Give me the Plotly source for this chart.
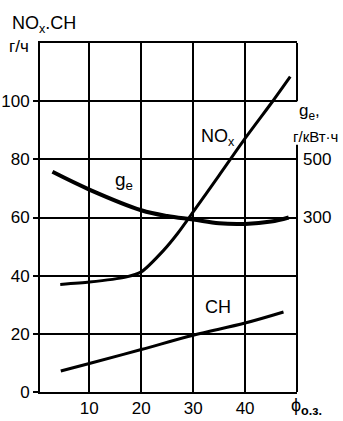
import plotly.graph_objects as go

# Data
phi_nox = [4.4, 10, 17, 20, 24.3, 27, 30, 35, 40, 45.5, 48.7]
nox = [37.0, 37.8, 39.5, 41.3, 48.7, 54.5, 61.9, 74.5, 87.2, 100.4, 108.4]

phi_ch = [4.5, 10, 20, 30, 40, 47.4]
ch = [7.2, 9.8, 14.6, 19.5, 23.7, 27.5]

phi_ge = [2.9, 10, 20, 25, 30, 35, 40, 45, 48.4]
ge = [457, 396, 325, 305, 293, 280, 278, 286, 300]

x_ticks = [10, 20, 30, 40]
y_ticks = [0, 20, 40, 60, 80, 100]
y2_ticks = [300, 500]

FONT = "Liberation Sans, Arial, sans-serif"
BLACK = "#000000"

fig = go.Figure()
fig.add_trace(go.Scatter(x=phi_nox, y=nox, mode="lines", line=dict(color=BLACK, width=3, shape="spline", smoothing=0.6), showlegend=False))
fig.add_trace(go.Scatter(x=phi_ch, y=ch, mode="lines", line=dict(color=BLACK, width=3, shape="spline"), showlegend=False))
fig.add_trace(go.Scatter(x=phi_ge, y=ge, mode="lines", yaxis="y2", line=dict(color=BLACK, width=4, shape="spline"), showlegend=False))

fig.update_layout(
    width=343, height=421,
    margin=dict(l=40, r=46, t=43, b=29),
    paper_bgcolor="white", plot_bgcolor="white",
    font=dict(family=FONT, size=17, color=BLACK),
    xaxis=dict(range=[0.5, 50], tickvals=x_ticks, showgrid=True, gridcolor=BLACK, gridwidth=2,
               showline=True, linecolor=BLACK, linewidth=2, mirror=True, ticks="",
               zeroline=False, tickfont=dict(size=17), ticklabelstandoff=0, automargin=False),
    yaxis=dict(range=[0, 120], tickvals=y_ticks, showgrid=True, gridcolor=BLACK, gridwidth=2,
               showline=True, linecolor=BLACK, linewidth=2, ticks="outside", ticklen=5,
               tickwidth=2, tickcolor=BLACK, zeroline=False, tickfont=dict(size=17), automargin=False),
    yaxis2=dict(range=[-300, 900], tickvals=y2_ticks, overlaying="y", side="right",
                showgrid=False, showline=False, ticks="", zeroline=False,
                tickfont=dict(size=17), ticklabelstandoff=5, automargin=False),
)

# right border with a gap for the g_e label
fig.add_shape(type="line", xref="paper", yref="y", x0=1, x1=1, y0=0, y1=85, line=dict(color=BLACK, width=2))
fig.add_shape(type="line", xref="paper", yref="y", x0=1, x1=1, y0=100, y1=120, line=dict(color=BLACK, width=2))

def px_x(px):
    return (px - 40) / 257.0

def px_y(py):
    return (392.0 - py) / 349.0

ann = [
    dict(text="NO<sub>x</sub>.CH", x=px_x(10), y=px_y(24), xanchor="left", yanchor="middle", size=18),
    dict(text="г/ч", x=px_x(7), y=px_y(47), xanchor="left", yanchor="middle", size=17),
    dict(text="g<sub>e</sub>,", x=px_x(297), y=px_y(112), xanchor="left", yanchor="middle", size=17),
    dict(text="г/кВт·ч", x=px_x(291), y=px_y(136), xanchor="left", yanchor="middle", size=15),
    dict(text="ϕ<sub><b>о.з.</b></sub>", x=px_x(289), y=px_y(407), xanchor="left", yanchor="middle", size=18),
]
for a in ann:
    fig.add_annotation(text=a["text"], xref="paper", yref="paper", x=a["x"], y=a["y"],
                       xanchor=a["xanchor"], yanchor=a["yanchor"], showarrow=False,
                       font=dict(family=FONT, size=a["size"], color=BLACK))

fig.add_annotation(text="NO<sub>x</sub>", x=31.2, y=87.5, xref="x", yref="y", xanchor="left", yanchor="middle",
                   showarrow=False, font=dict(family=FONT, size=18, color=BLACK))
fig.add_annotation(text="g<sub>e</sub>", x=14.6, y=72.5, xref="x", yref="y", xanchor="left", yanchor="middle",
                   showarrow=False, font=dict(family=FONT, size=19, color=BLACK))
fig.add_annotation(text="CH", x=34.8, y=29.1, xref="x", yref="y", xanchor="center", yanchor="middle",
                   showarrow=False, font=dict(family=FONT, size=18, color=BLACK))

fig.write_html("out.html", post_script="document.body.style.margin='0px';",
               config={"displayModeBar": False})
